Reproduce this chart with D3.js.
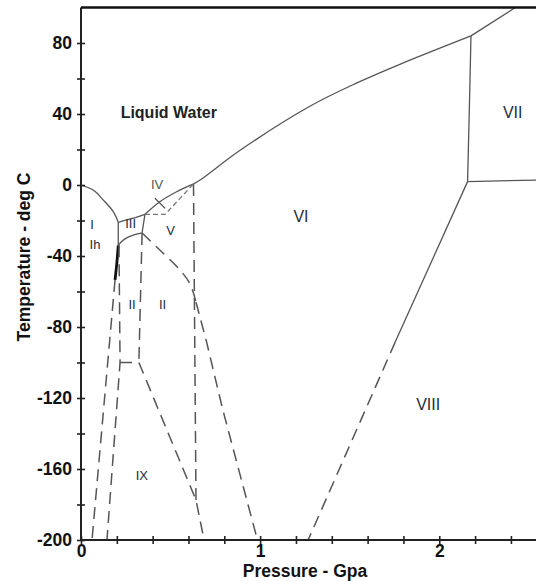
<!DOCTYPE html>
<html><head><meta charset="utf-8">
<script src="https://cdn.jsdelivr.net/npm/d3@7"></script>
<style>
body{margin:0;background:#fff;}
svg text{font-family:"Liberation Sans",Arial,Helvetica,sans-serif;}
</style></head>
<body><svg id="c" width="536" height="581"></svg>
<script>
// ---- data: phase boundaries as [pressure GPa, temperature °C]
const meltIh   = [[0,0],[0.07,-3],[0.125,-8.5],[0.18,-15],[0.208,-21]];
const meltIII  = [[0.208,-21],[0.28,-19],[0.357,-16.5]];
const meltV    = [[0.357,-16.5],[0.44,-9.4],[0.534,-3.8],[0.628,0.6]];
const meltVI   = [[0.628,0.6],[0.665,2.8],[0.89,19.7],[1.28,44.5],[1.54,57.5],[1.78,68],[2.177,84]];
const meltVII  = [[2.177,84],[2.425,100]];
const bIhIII   = [[0.208,-21],[0.208,-34]];
const bIIIII   = [[0.208,-34],[0.23,-31.5],[0.26,-29.5],[0.30,-28],[0.341,-27]];
const bIIIV    = [[0.357,-16.5],[0.341,-27]];
const bIhII    = [[0.208,-34],[0.2,-44],[0.19,-53.5]];
const bIVmark  = [[0.413,-7.5],[0.469,-13.1]];
const bVIVII   = [[2.177,84],[2.169,48],[2.158,1.9]];
const bVIIVIII = [[2.158,1.9],[2.54,2.8]];
const bVIVIII  = [[2.158,1.9],[1.754,-88.5]];
const dIhIX    = [[0.19,-53.5],[0.0615,-200]];
const dIIleft  = [[0.212,-34],[0.218,-100],[0.145,-200]];
const dIIfloor = [[0.218,-100],[0.323,-100]];
const dIIvert  = [[0.341,-27],[0.323,-100]];
const dIXVI    = [[0.323,-100],[0.642,-177.5],[0.687,-200]];
const dIVbox   = [[0.357,-16.5],[0.47,-16.5],[0.628,0.6]];
const dVVI     = [[0.628,0.6],[0.642,-178]];
const dIIV     = [[0.341,-27],[0.44,-36.6],[0.553,-47.9],[0.61,-56],[0.642,-66]];
const dIIVI    = [[0.642,-66],[0.70,-88],[0.79,-126],[0.89,-164],[0.985,-200]];
const dVIVIII  = [[1.754,-88.5],[1.268,-200]];

const xTicks = [0,0.2,0.4,0.6,0.8,1,1.2,1.4,1.6,1.8,2,2.2,2.4];
const xTickLabels = [0,1,2];
const yTicks = [-200,-180,-160,-140,-120,-100,-80,-60,-40,-20,0,20,40,60,80];
const yTickLabels = [-200,-160,-120,-80,-40,0,40,80];

const phaseNames = ["Liquid Water","VII","VI","VIII","IX","II","II","IV","V","III","I","Ih"];
const phaseAt    = [[0.49,37.5],[2.41,38],[1.228,-21],[1.938,-127],[0.34,-166],[0.285,-70],[0.455,-70],[0.425,-2],[0.5,-28],[0.277,-24],[0.062,-25],[0.078,-36]];
const phaseBig   = [true,false,false,false,false,false,false,false,false,false,false,false];

// ---- scales
const x = d3.scaleLinear().domain([0,2.54]).range([81,536]);
const y = d3.scaleLinear().domain([-200,100]).range([540,7.5]);
const svg = d3.select("#c");

const line = d3.line().x(d=>x(d[0])).y(d=>y(d[1]));
const curve = d3.line().x(d=>x(d[0])).y(d=>y(d[1])).curve(d3.curveCatmullRom.alpha(0.5));

function draw(data, opts){
  svg.append("path").attr("d",(opts.smooth?curve:line)(data))
    .attr("fill","none").attr("stroke",opts.color||"#555")
    .attr("stroke-width",opts.w||1.3)
    .attr("stroke-dasharray",opts.dash||null)
    .attr("stroke-linecap","butt").attr("stroke-linejoin","round");
}
// solid boundaries
[meltIh,meltIII,meltV,meltVI,meltVII,bIIIII,bVIVII].forEach(d=>draw(d,{smooth:true}));
[bIhIII,bIIIV,bIVmark,bVIIVIII,bVIVIII].forEach(d=>draw(d,{}));
draw(bIhII,{smooth:true,color:"#111",w:2.8});
// dashed boundaries
[dIhIX,dIIleft,dIIfloor,dIIvert,dIXVI,dVVI,dIIVI,dVIVIII].forEach(d=>draw(d,{dash:"12,7",w:1.5}));
draw(dIIV,{smooth:true,dash:"12,7",w:1.5});
draw(dIVbox,{dash:"5,3",w:1.3,color:"#777"});

// ---- axes
const gx = svg.append("g").attr("transform","translate(0,540)")
  .call(d3.axisBottom(x).tickValues(xTicks).tickSize(4).tickFormat(d=>xTickLabels.includes(d)?d3.format("d")(d):""));
const gy = svg.append("g").attr("transform","translate(81,0)")
  .call(d3.axisLeft(y).tickValues(yTicks).tickSize(4).tickFormat(d=>yTickLabels.includes(d)?String(d):""));
[gx,gy].forEach(g=>{
  g.select(".domain").attr("stroke","#222").attr("stroke-width",2);
  g.selectAll(".tick line").attr("stroke","#222").attr("stroke-width",1.6);
  g.selectAll(".tick text").attr("font-size",17.5).attr("font-weight","bold").attr("fill","#111")
    .attr("font-family","'Liberation Sans',Arial,sans-serif");
});
gx.selectAll(".tick line").attr("y1",-4).attr("y2",4);
gx.selectAll(".tick text").attr("y",5);
gy.selectAll(".tick line").attr("x1",-4).attr("x2",4);
gy.selectAll(".tick text").attr("x",-9);
gx.select(".domain").attr("d",`M81,0H536`);
gy.select(".domain").attr("d",`M0,7.5V540`);
// top border
svg.append("line").attr("x1",x(0)).attr("x2",x(2.54)).attr("y1",y(100)).attr("y2",y(100))
  .attr("stroke","#111").attr("stroke-width",2.4);

// axis titles
svg.append("text").attr("x",305).attr("y",577).attr("text-anchor","middle")
  .attr("font-size",17.5).attr("font-weight","bold").attr("fill","#111").text("Pressure - Gpa");
svg.append("text").attr("transform","translate(30,257) rotate(-90)").attr("text-anchor","middle")
  .attr("font-size",17.5).attr("font-weight","bold").attr("fill","#111").text("Temperature - deg C");

// phase labels
svg.selectAll("text.phase").data(phaseNames).enter().append("text").attr("class","phase")
  .attr("x",(d,i)=>x(phaseAt[i][0])).attr("y",(d,i)=>y(phaseAt[i][1]))
  .attr("text-anchor","middle")
  .attr("font-size",(d,i)=>phaseBig[i]?16:(["VI","VII","VIII"].includes(d)?16:13))
  .attr("font-weight",(d,i)=>phaseBig[i]?"bold":"normal")
  .attr("fill",(d,i)=>phaseBig[i]?"#222":(d==="IV"?"#555":"#1f2a3c"))
  .text(d=>d);
</script></body></html>
